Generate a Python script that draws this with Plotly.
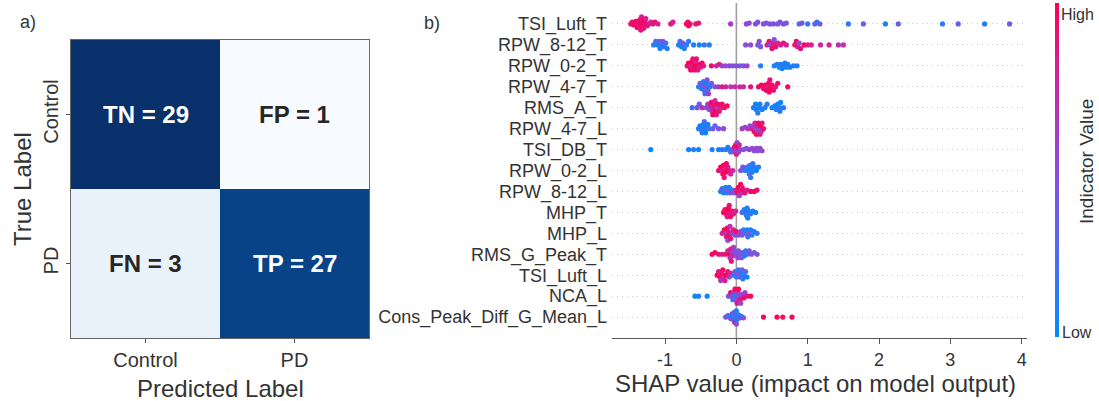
import numpy as np
import plotly.graph_objects as go

W, H = 1099, 401

# ---------------- data: confusion matrix ----------------
cm_labels = ["Control", "PD"]
cm_values = [[29, 1], [3, 27]]
cm_text = [["TN = 29", "FP = 1"], ["FN = 3", "TP = 27"]]

# ---------------- data: SHAP summary ----------------
features = ["TSI_Luft_T", "RPW_8-12_T", "RPW_0-2_T", "RPW_4-7_T", "RMS_A_T",
            "RPW_4-7_L", "TSI_DB_T", "RPW_0-2_L", "RPW_8-12_L", "MHP_T",
            "MHP_L", "RMS_G_Peak_T", "TSI_Luft_L", "NCA_L", "Cons_Peak_Diff_G_Mean_L"]
x_ticks = [-1, 0, 1, 2, 3, 4]
x_ticklabels = ["-1", "0", "1", "2", "3", "4"]

shap_TSI_Luft_T = [-1.48,-1.46,-1.44,-1.42,-1.41,-1.40,-1.39,-1.38,-1.37,-1.36,
                   -1.35,-1.35,-1.34,-1.34,-1.33,-1.33,-1.32,-1.31,-1.30,-1.30,
                   -1.29,-1.28,-1.27,-1.25,-1.23,-1.20,-1.17,-1.14,-1.10,
                   -0.92,-0.89,-0.70,-0.68,-0.67,-0.65,-0.57,-0.53,-0.08,0.14,0.18,
                   0.27,0.30,0.38,0.42,0.47,0.52,0.58,0.61,0.66,0.70,
                   0.88,0.92,1.00,1.10,1.13,1.17,1.57,1.78,2.09,2.27,2.89,3.11,3.48,3.83]
feat_TSI_Luft_T = [0.95,0.9,1.0,0.85,0.95,0.9,1.0,0.8,0.95,0.9,
                   1.0,0.85,0.95,0.9,1.0,0.8,0.9,0.95,1.0,0.85,
                   0.9,0.95,0.8,0.9,0.85,0.8,0.85,0.9,0.8,
                   0.85,0.8,0.95,0.9,1.0,0.95,0.85,0.9,0.6,0.5,0.55,
                   0.5,0.45,0.5,0.45,0.5,0.4,0.5,0.45,0.5,0.45,
                   0.3,0.4,0.15,0.35,0.2,0.4,0.15,0.35,0.1,0.35,0.15,0.4,0.1,0.4]

shap_RPW_8_12_T = [-1.16,-1.13,-1.10,-1.08,-1.07,-1.05,-1.03,-1.01,-0.99,-0.97,
                   -0.81,-0.79,-0.77,-0.75,-0.73,-0.70,-0.67,-0.60,-0.52,-0.45,-0.38,
                   0.13,0.20,0.30,0.32,0.34,
                   0.43,0.46,0.48,0.50,0.52,0.53,0.55,0.58,0.62,0.66,0.70,
                   0.82,0.84,0.86,0.88,0.90,0.95,1.00,1.05,1.18,1.30,1.43,1.50]
feat_RPW_8_12_T = [0.1,0.2,0.05,0.4,0.1,0.15,0.45,0.1,0.2,0.1,
                   0.1,0.2,0.05,0.45,0.1,0.15,0.1,0.1,0.05,0.2,0.1,
                   0.5,0.5,0.45,0.5,0.4,
                   0.8,0.9,0.5,0.95,0.85,0.5,0.9,0.8,0.85,0.9,0.8,
                   0.9,0.95,0.85,0.5,0.9,0.95,0.85,0.8,0.75,0.8,0.7,0.75]

shap_RPW_0_2_T = [-0.69,-0.67,-0.65,-0.64,-0.63,-0.62,-0.61,-0.60,-0.59,-0.58,
                  -0.57,-0.56,-0.55,-0.54,-0.52,-0.50,-0.48,-0.46,
                  -0.35,-0.28,-0.24,-0.20,-0.15,-0.10,-0.05,0.00,0.05,0.10,0.15,
                  0.34,0.53,0.57,0.60,0.62,0.64,0.66,0.68,0.70,0.72,0.75,0.80,0.85]
feat_RPW_0_2_T = [0.9,1.0,0.85,0.95,0.8,1.0,0.9,0.85,0.95,1.0,
                  0.8,0.9,0.95,0.85,0.9,0.8,0.95,0.85,
                  0.95,0.7,0.85,0.6,0.5,0.55,0.45,0.5,0.4,0.45,0.6,
                  0.1,0.1,0.05,0.1,0.15,0.05,0.1,0.05,0.1,0.15,0.05,0.1,0.1]

shap_RPW_4_7_T = [-0.53,-0.51,-0.49,-0.47,-0.46,-0.45,-0.44,-0.43,-0.42,-0.41,-0.40,-0.39,-0.37,-0.35,
                  -0.30,-0.25,-0.20,-0.15,-0.08,-0.02,0.05,0.10,0.20,
                  0.31,0.35,0.38,0.40,0.42,0.44,0.45,0.46,0.47,0.48,0.50,0.52,0.55,0.58,0.72]
feat_RPW_4_7_T = [0.1,0.3,0.05,0.4,0.1,0.35,0.15,0.5,0.1,0.45,0.2,0.6,0.1,0.4,
                  0.5,0.6,0.85,0.8,0.7,0.75,0.8,0.75,0.9,
                  0.95,1.0,0.9,0.95,1.0,0.85,0.95,1.0,0.9,0.95,1.0,0.9,0.85,0.95,0.95]

shap_RMS_A_T = [-0.62,-0.55,-0.52,-0.48,-0.42,-0.40,-0.38,-0.36,-0.35,-0.34,-0.33,-0.32,
                -0.31,-0.30,-0.29,-0.28,-0.27,-0.26,-0.24,-0.22,-0.20,-0.17,-0.13,
                0.24,0.27,0.28,0.30,0.32,0.33,0.36,0.40,0.43,
                0.50,0.54,0.56,0.58,0.60,0.61,0.62,0.66]
feat_RMS_A_T = [0.2,0.45,0.4,0.7,0.55,0.6,0.5,0.8,0.95,0.7,1.0,0.85,
                0.9,0.75,1.0,0.85,0.6,0.95,0.9,0.8,0.95,0.9,0.95,
                0.1,0.05,0.1,0.15,0.05,0.1,0.1,0.05,0.15,
                0.1,0.05,0.1,0.05,0.15,0.1,0.05,0.1]

shap_RPW_4_7_L = [-0.53,-0.51,-0.49,-0.48,-0.47,-0.46,-0.45,-0.44,-0.43,-0.42,-0.40,-0.38,
                  -0.33,-0.30,-0.25,-0.18,
                  0.08,0.12,0.16,0.19,0.22,0.24,0.25,0.26,0.27,0.28,0.29,0.30,0.31,0.32,0.33,0.34,0.35,0.36,0.38]
feat_RPW_4_7_L = [0.1,0.05,0.2,0.1,0.15,0.05,0.25,0.1,0.05,0.15,0.1,0.2,
                  0.35,0.3,0.45,0.5,
                  0.6,0.55,0.7,0.5,0.85,0.6,0.95,0.75,0.5,1.0,0.8,0.65,0.95,0.55,0.9,1.0,0.7,0.85,0.9]

shap_TSI_DB_T = [-1.20,-0.67,-0.60,-0.53,-0.34,-0.25,-0.20,-0.15,-0.12,-0.10,-0.08,
                 -0.05,-0.03,-0.02,-0.01,0.00,0.00,0.01,0.02,0.03,0.04,0.05,
                 0.10,0.14,0.18,0.22,0.25,0.28,0.30,0.33,0.36]
feat_TSI_DB_T = [0.05,0.05,0.1,0.05,0.1,0.05,0.15,0.1,0.05,0.1,0.2,
                 0.5,0.9,0.6,0.95,0.55,0.85,0.5,1.0,0.6,0.8,0.55,
                 0.5,0.45,0.6,0.45,0.5,0.6,0.45,0.55,0.5]

shap_RPW_0_2_L = [-0.25,-0.22,-0.20,-0.19,-0.18,-0.17,-0.16,-0.15,-0.14,-0.12,-0.10,-0.08,-0.05,
                  0.06,0.09,0.12,0.15,0.17,0.18,0.19,0.20,0.21,0.22,0.23,0.25,0.28,0.31]
feat_RPW_0_2_L = [0.9,1.0,0.85,0.95,1.0,0.9,0.8,1.0,0.95,0.85,0.9,0.8,0.75,
                  0.5,0.45,0.1,0.2,0.05,0.3,0.1,0.15,0.05,0.1,0.2,0.1,0.05,0.1]

shap_RPW_8_12_L = [-0.22,-0.20,-0.18,-0.16,-0.15,-0.13,-0.11,-0.10,-0.08,-0.05,-0.03,
                   0.00,0.02,0.03,0.04,0.05,0.06,0.07,0.08,0.10,0.12,0.15,0.20,0.25,0.29]
feat_RPW_8_12_L = [0.1,0.2,0.05,0.3,0.1,0.15,0.35,0.1,0.4,0.2,0.5,
                   0.85,0.95,1.0,0.6,0.9,1.0,0.7,0.85,0.95,0.9,0.8,0.95,1.0,0.9]

shap_MHP_T = [-0.18,-0.16,-0.14,-0.13,-0.12,-0.11,-0.10,-0.09,-0.08,-0.06,-0.04,-0.01,
              0.08,0.11,0.13,0.14,0.15,0.16,0.17,0.20,0.23,0.27]
feat_MHP_T = [0.95,0.9,1.0,0.85,0.95,1.0,0.9,0.8,0.95,0.9,0.85,0.8,
              0.3,0.1,0.05,0.15,0.1,0.05,0.1,0.2,0.05,0.1]

shap_MHP_L = [-0.20,-0.17,-0.15,-0.14,-0.13,-0.12,-0.11,-0.10,-0.09,-0.08,-0.06,-0.04,-0.02,0.00,0.03,0.06,
              0.08,0.10,0.13,0.15,0.16,0.18,0.20,0.22,0.25,0.29]
feat_MHP_L = [0.8,0.95,0.6,0.9,1.0,0.55,0.85,0.95,0.7,0.9,0.6,0.85,0.5,0.9,0.55,0.6,
              0.4,0.1,0.35,0.05,0.15,0.45,0.1,0.2,0.1,0.15]

shap_RMS_G_Peak_T = [-0.34,-0.30,-0.25,-0.20,-0.15,-0.12,-0.10,-0.09,-0.08,-0.07,-0.06,-0.05,-0.04,
                     -0.02,0.00,0.02,0.03,0.05,0.07,0.09,0.11,0.13,0.15,0.18,0.21,0.25,0.29]
feat_RMS_G_Peak_T = [1.0,0.95,0.9,0.85,0.9,0.8,0.95,0.7,0.85,0.9,0.6,0.75,0.65,
                     0.5,0.45,0.55,0.5,0.4,0.5,0.45,0.15,0.1,0.2,0.45,0.5,0.4,0.45]

shap_TSI_Luft_L = [-0.27,-0.25,-0.23,-0.22,-0.20,-0.19,-0.18,-0.16,-0.14,-0.12,-0.10,-0.08,
                   -0.04,-0.02,0.00,0.02,0.03,0.05,0.07,0.08,0.09,0.11,0.13,0.15]
feat_TSI_Luft_L = [0.95,0.85,1.0,0.6,0.9,0.95,0.7,0.85,1.0,0.9,0.55,0.8,
                   0.1,0.45,0.2,0.5,0.1,0.35,0.05,0.4,0.15,0.1,0.3,0.05]

shap_NCA_L = [-0.58,-0.53,-0.41,-0.11,-0.08,-0.06,-0.05,-0.03,-0.02,-0.01,0.00,0.01,
              0.02,0.03,0.04,0.05,0.06,0.08,0.10,0.12,0.15,0.20]
feat_NCA_L = [0.05,0.1,0.05,0.5,0.9,0.45,0.2,0.55,0.95,0.1,0.5,0.85,
              0.6,1.0,0.45,0.9,0.55,0.5,0.95,0.6,0.9,0.95]

shap_Cons_Peak = [-0.15,-0.12,-0.10,-0.08,-0.07,-0.06,-0.05,-0.04,-0.03,-0.03,-0.02,-0.02,
                  -0.01,-0.01,0.00,0.00,0.01,0.02,0.03,0.05,0.07,0.10,0.38,0.57,0.65,0.78]
feat_Cons_Peak = [0.45,0.3,0.1,0.5,0.05,0.4,0.1,0.6,0.05,0.35,0.1,0.9,
                  0.05,0.4,0.1,0.5,0.05,0.3,0.1,0.45,0.15,0.5,0.95,1.0,0.95,1.0]

shap_rows = [shap_TSI_Luft_T, shap_RPW_8_12_T, shap_RPW_0_2_T, shap_RPW_4_7_T, shap_RMS_A_T,
             shap_RPW_4_7_L, shap_TSI_DB_T, shap_RPW_0_2_L, shap_RPW_8_12_L, shap_MHP_T,
             shap_MHP_L, shap_RMS_G_Peak_T, shap_TSI_Luft_L, shap_NCA_L, shap_Cons_Peak]
feat_rows = [feat_TSI_Luft_T, feat_RPW_8_12_T, feat_RPW_0_2_T, feat_RPW_4_7_T, feat_RMS_A_T,
             feat_RPW_4_7_L, feat_TSI_DB_T, feat_RPW_0_2_L, feat_RPW_8_12_L, feat_MHP_T,
             feat_MHP_L, feat_RMS_G_Peak_T, feat_TSI_Luft_L, feat_NCA_L, feat_Cons_Peak]

# ---------------- geometry (pixels) ----------------
FONT = "Liberation Sans, Arial, Helvetica, sans-serif"
TXT = "#333333"
cm_x0, cm_x1, cm_y0, cm_y1 = 71, 369, 40, 338
sh_x0, sh_x1, sh_y0, sh_y1 = 612, 1027, 3, 338
xr = [-1.744, 4.075]
yr = [-1.0, 15.0]
px_per_x = (sh_x1 - sh_x0) / (xr[1] - xr[0])
px_per_y = (sh_y1 - sh_y0) / (yr[1] - yr[0])

def px(x):
    return x / W

def py(y):
    return 1 - y / H

# beeswarm layout: collision-avoiding vertical offsets (layout only)
def swarm(vals, d=3.6, max_px=7.0):
    xs = np.asarray(vals, float) * px_per_x
    order = np.argsort(xs, kind="stable")
    placed = []
    ys = np.zeros(len(xs))
    cands = [0.0]
    for k in range(1, 60):
        cands += [k * d * 0.5, -k * d * 0.5]
    for i in order:
        x = xs[i]
        near = [(a, b) for a, b in placed if abs(x - a) < d]
        for y in cands:
            if all((x - a) ** 2 + (y - b) ** 2 >= d * d * 0.8 for a, b in near):
                break
        ys[i] = y
        placed.append((x, y))
    m = np.max(np.abs(ys)) if len(ys) else 0
    if m > max_px:
        ys *= max_px / m
    return ys / px_per_y

shap_scale = [[0.0, "#008bfb"], [0.25, "#4f6cf0"], [0.5, "#8a4cdb"],
              [0.75, "#c82aa6"], [1.0, "#ff0052"]]

all_x, all_y, all_c = [], [], []
n = len(features)
for i, (sv, fv) in enumerate(zip(shap_rows, feat_rows)):
    m = min(len(sv), len(fv))
    sv, fv = sv[:m], fv[:m]
    row = n - 1 - i
    offs = swarm(sv)
    all_x += list(sv)
    all_y += list(row + offs)
    all_c += list(fv)

fig = go.Figure()

blues = [[0.0, "#f7fbff"], [0.125, "#deebf7"], [0.25, "#c6dbef"], [0.375, "#9ecae1"],
         [0.5, "#6baed6"], [0.625, "#4292c6"], [0.75, "#2171b5"], [0.875, "#08519c"],
         [1.0, "#08306b"]]
fig.add_trace(go.Heatmap(z=cm_values, x=[0, 1], y=[0, 1], colorscale=blues,
                         zmin=1, zmax=29, showscale=False, xaxis="x", yaxis="y",
                         hoverinfo="skip"))

fig.add_trace(go.Scatter(
    x=all_x, y=all_y, mode="markers", xaxis="x2", yaxis="y2",
    marker=dict(size=5.2, color=all_c, colorscale=shap_scale, cmin=0, cmax=1,
                line=dict(width=0), opacity=1,
                showscale=True,
                colorbar=dict(x=px(1055), xanchor="left", xref="paper",
                              y=py(3), yanchor="top", yref="paper",
                              len=(337 - 3) / H, lenmode="fraction",
                              thickness=3.5, outlinewidth=0,
                              showticklabels=False, ticks="", xpad=0, ypad=0)),
    hoverinfo="skip", showlegend=False))

annotations = []
for r in range(2):
    for c in range(2):
        dark = cm_values[r][c] > 15
        annotations.append(dict(x=c, y=r, xref="x", yref="y", text=cm_text[r][c],
                                showarrow=False,
                                font=dict(family=FONT, size=24, color="white" if dark else "#262626",
                                          weight="bold")))

def ann(text, x, y, size, angle=0, xanchor="center", color=TXT):
    annotations.append(dict(text=text, x=px(x), y=py(y), xref="paper", yref="paper",
                            showarrow=False, textangle=angle, xanchor=xanchor,
                            yanchor="middle", font=dict(family=FONT, size=size, color=color)))

ann("a)", 18, 22, 18, xanchor="left")
ann("b)", 422, 23, 18, xanchor="left")
ann("True Label", 22, 189, 24, angle=-90)
ann("Predicted Label", 220, 388, 24)
ann("SHAP value (impact on model output)", 815, 383, 24)
ann("High", 1059, 14, 16, xanchor="left")
ann("Low", 1060, 332, 16, xanchor="left")
ann("Indicator Value", 1087, 162, 19, angle=-90)

shapes = [dict(type="line", xref="x2", yref="y2 domain", x0=0, x1=0, y0=0, y1=1,
               line=dict(color="#a0a0a0", width=1.6), layer="below")]

fig.update_layout(
    width=W, height=H, margin=dict(l=0, r=0, t=0, b=0),
    paper_bgcolor="white", plot_bgcolor="white", showlegend=False,
    font=dict(family=FONT, color=TXT),
    xaxis=dict(domain=[px(cm_x0), px(cm_x1)], range=[-0.5, 1.5], anchor="y",
               tickvals=[0, 1], ticktext=cm_labels, tickfont=dict(size=20, color=TXT),
               ticks="outside", ticklen=4, tickcolor="#555", showline=True, mirror=True,
               linecolor="#666", linewidth=1, showgrid=False, zeroline=False, fixedrange=True),
    yaxis=dict(domain=[py(cm_y1), py(cm_y0)], range=[1.5, -0.5], anchor="x",
               tickvals=[0, 1], ticktext=cm_labels, tickfont=dict(size=20, color=TXT),
               tickangle=-90, ticks="outside", ticklen=4, tickcolor="#555",
               showline=True, mirror=True, linecolor="#666", linewidth=1,
               showgrid=False, zeroline=False, fixedrange=True),
    xaxis2=dict(domain=[px(sh_x0), px(sh_x1)], range=xr, anchor="y2",
                tickvals=x_ticks, ticktext=x_ticklabels, tickfont=dict(size=18, color=TXT),
                ticks="outside", ticklen=5, tickcolor="#555", showline=True,
                linecolor="#555", linewidth=1, showgrid=False, zeroline=False),
    yaxis2=dict(domain=[py(sh_y1), py(sh_y0)], range=yr, anchor="x2",
                tickvals=list(range(n)), ticktext=features[::-1],
                tickfont=dict(size=18, color=TXT), ticks="", showline=False,
                showgrid=True, gridcolor="#cccccc", gridwidth=1, griddash="1px,4px",
                zeroline=False, ticklabelstandoff=4),
    annotations=annotations, shapes=shapes,
)

fig.write_html("out.html", config={"displayModeBar": False},
               post_script="document.body.style.margin='0';")
